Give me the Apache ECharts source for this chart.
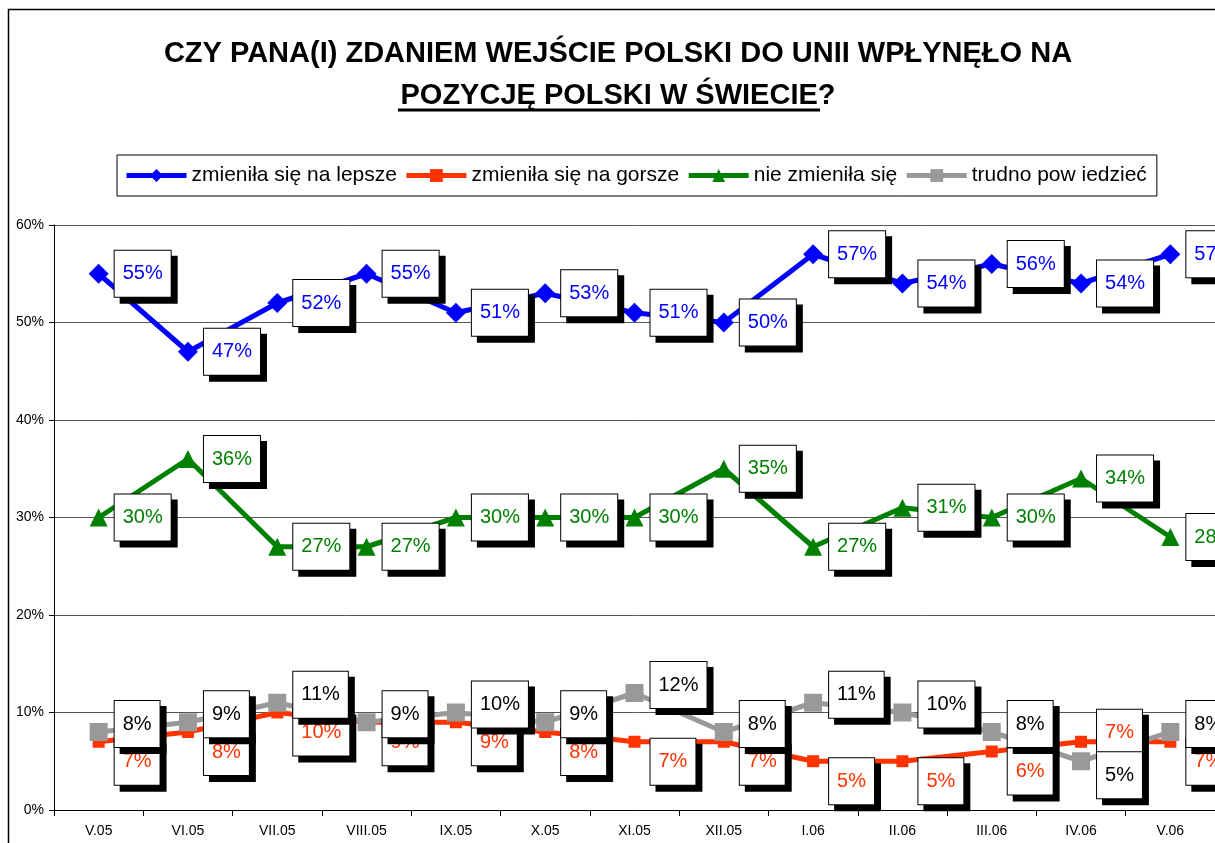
<!DOCTYPE html>
<html>
<head>
<meta charset="utf-8">
<script src="https://cdn.jsdelivr.net/npm/echarts@6/dist/echarts.min.js"></script>
<style>
  html, body {
    margin: 0;
    padding: 0;
    background-color: #ffffff;
  }
  .wrap-echart {
    width: 1215px;
    height: 843px;
  }
</style>
</head>
<body>
<div id="chart" class="wrap-echart"></div>
<script>
const categories = ['V.05', 'VI.05', 'VII.05', 'VIII.05', 'IX.05', 'X.05', 'XI.05',
  'XII.05', 'I.06', 'II.06', 'III.06', 'IV.06', 'V.06']
const seriesNames = ['zmieniła się na lepsze', 'zmieniła się na gorsze', 'nie zmieniła się', 'trudno pow iedzieć']
const better = [55, 47, 52, 55, 51, 53, 51, 50, 57, 54, 56, 54, 57]
const worse = [7, 8, 10, 9, 9, 8, 7, 7, 5, 5, 6, 7, 7]
const unchanged = [30, 36, 27, 27, 30, 30, 30, 35, 27, 31, 30, 34, 28]
const hardToSay = [8, 9, 11, 9, 10, 9, 12, 8, 11, 10, 8, 5, 8]

const FONT = '"Liberation Sans", Arial, sans-serif'

function boxLabel (color, distance) {
  return {
    show: true,
    position: 'right',
    distance: distance,
    formatter: '{c}%',
    color: color,
    fontFamily: FONT,
    fontSize: 20,
    lineHeight: 22,
    padding: [12, 8, 12, 8],
    backgroundColor: '#ffffff',
    borderColor: '#000000',
    borderWidth: 1,
    shadowColor: '#000000',
    shadowBlur: 0,
    shadowOffsetX: 6,
    shadowOffsetY: 6
  }
}

function initChart (dom) {
  const chart = echarts.init(dom, null, { width: 1215, height: 843 })

  // the two low series share a band: push the labels apart
  const worseData = worse.map(function (v, i) {
    return { value: v, label: { offset: [0, v > hardToSay[i] ? -9 : 20] } }
  })
  const hardData = hardToSay.map(function (v, i) {
    return { value: v, label: { offset: [0, v < worse[i] ? 14 : -8] } }
  })

  const option = {
    animation: false,
    backgroundColor: '#ffffff',
    textStyle: { fontFamily: FONT },
    graphic: [
      {
        type: 'rect',
        silent: true,
        shape: { x: 8.5, y: 9.5, width: 1400, height: 1000 },
        style: { fill: null, stroke: '#000000', lineWidth: 1.5 },
        z: 0
      },
      {
        type: 'text',
        x: 618,
        y: 54,
        style: {
          text: 'CZY PANA(I) ZDANIEM WEJŚCIE POLSKI DO UNII WPŁYNĘŁO NA',
          font: 'bold 29px ' + FONT,
          fill: '#000000',
          align: 'center',
          verticalAlign: 'middle'
        }
      },
      {
        type: 'text',
        x: 618,
        y: 96,
        style: {
          text: 'POZYCJĘ POLSKI W ŚWIECIE?',
          font: 'bold 29px ' + FONT,
          fill: '#000000',
          align: 'center',
          verticalAlign: 'middle'
        }
      },
      {
        type: 'line',
        silent: true,
        shape: { x1: 398, y1: 110, x2: 820, y2: 110 },
        style: { stroke: '#000000', lineWidth: 3 }
      }
    ],
    legend: {
      left: 117,
      top: 155,
      padding: [10, 10, 10, 7],
      itemWidth: 60,
      itemHeight: 16,
      itemGap: 7,
      borderColor: '#000000',
      borderWidth: 1,
      lineStyle: { width: 5 },
      textStyle: { fontFamily: FONT, fontSize: 21, color: '#000000' },
      data: seriesNames
    },
    grid: {
      left: 54,
      top: 225,
      width: 1170,
      height: 585
    },
    xAxis: {
      type: 'category',
      data: categories,
      boundaryGap: true,
      axisLine: { lineStyle: { color: '#000000', width: 1 } },
      axisTick: { show: true, length: 6, lineStyle: { color: '#000000' } },
      axisLabel: { color: '#000000', fontSize: 14, margin: 14, fontFamily: FONT }
    },
    yAxis: {
      type: 'value',
      min: 0,
      max: 60,
      interval: 10,
      axisLine: { show: true, lineStyle: { color: '#000000', width: 1 } },
      axisTick: { show: true, length: 5, lineStyle: { color: '#000000' } },
      axisLabel: { color: '#000000', fontSize: 14, margin: 10, formatter: '{value}%', fontFamily: FONT },
      splitLine: { show: true, lineStyle: { color: '#555555', width: 1 } }
    },
    series: [
      {
        name: seriesNames[0],
        type: 'line',
        data: better,
        color: '#0000ff',
        lineStyle: { width: 5 },
        symbol: 'diamond',
        symbolSize: 20,
        label: boxLabel('#0000ff', 6)
      },
      {
        name: seriesNames[1],
        type: 'line',
        data: worseData,
        color: '#ff3300',
        lineStyle: { width: 5 },
        symbol: 'rect',
        symbolSize: 12,
        label: boxLabel('#ff3300', 10)
      },
      {
        name: seriesNames[2],
        type: 'line',
        data: unchanged,
        color: '#008000',
        lineStyle: { width: 5 },
        symbol: 'triangle',
        symbolSize: 18,
        label: boxLabel('#008000', 7)
      },
      {
        name: seriesNames[3],
        type: 'line',
        data: hardData,
        color: '#999999',
        lineStyle: { width: 5 },
        symbol: 'rect',
        symbolSize: 18,
        label: boxLabel('#000000', 7)
      }
    ]
  }

  chart.setOption(option)
  return chart
}

initChart(document.getElementById('chart'))
</script>
</body>
</html>
